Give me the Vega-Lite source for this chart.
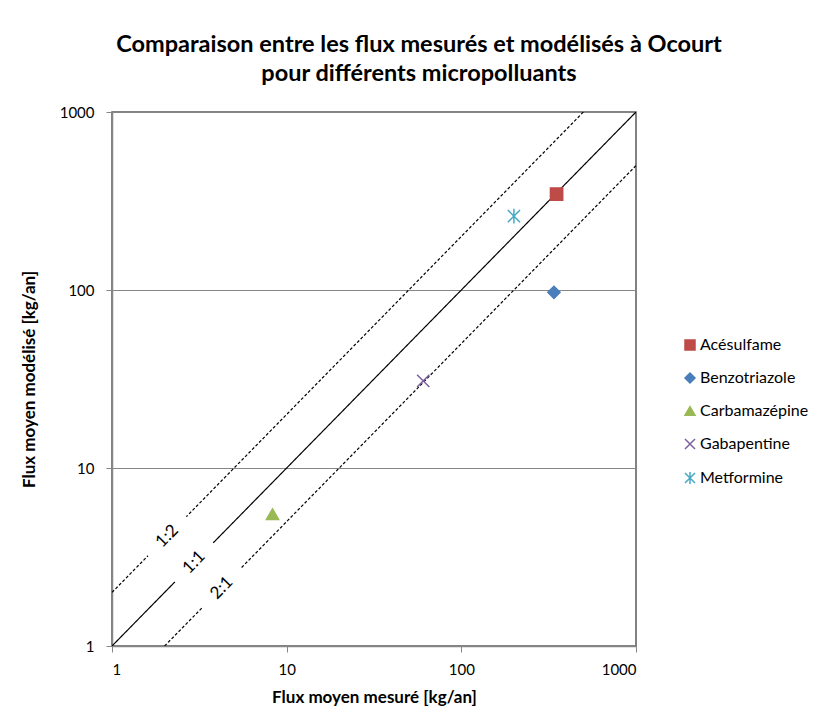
{
  "$schema": "https://vega.github.io/schema/vega-lite/v6.json",
  "width": 524,
  "height": 534,
  "autosize": {"type": "none"},
  "padding": {"left": 112, "top": 112, "right": 182, "bottom": 76},
  "background": "white",
  "config": {
    "font": "Lato",
    "view": {"stroke": "#595959", "strokeWidth": 1.5},
    "axis": {
      "domainColor": "#868686",
      "domainWidth": 1.5,
      "tickColor": "#868686",
      "tickSize": 6,
      "labelFontSize": 15,
      "labelColor": "#000000",
      "titleFontSize": 17,
      "titleFontWeight": "bold",
      "titleColor": "#000000",
      "gridColor": "#868686",
      "gridWidth": 1
    }
  },
  "title": {
    "text": ["Comparaison entre les flux mesurés et modélisés à Ocourt", "pour différents micropolluants"],
    "fontSize": 23.5,
    "fontWeight": "bold",
    "color": "#000000",
    "lineHeight": 29,
    "anchor": "middle",
    "dx": 45,
    "offset": 20
  },
  "datasets": {
    "lines": [
      {"ratio": "1:1", "x": 1, "y": 1},
      {"ratio": "1:1", "x": 1000, "y": 1000},
      {"ratio": "1:2", "x": 1, "y": 2},
      {"ratio": "1:2", "x": 500, "y": 1000},
      {"ratio": "2:1", "x": 2, "y": 1},
      {"ratio": "2:1", "x": 1000, "y": 500}
    ],
    "labels": [
      {"ratio": "1:2", "x": 2.07, "y": 4.14},
      {"ratio": "1:1", "x": 2.95, "y": 2.95},
      {"ratio": "2:1", "x": 4.25, "y": 2.12}
    ],
    "points": [
      {"name": "Acésulfame", "mesure": 351, "modelise": 346},
      {"name": "Benzotriazole", "mesure": 339, "modelise": 97},
      {"name": "Carbamazépine", "mesure": 8.3, "modelise": 5.5},
      {"name": "Gabapentine", "mesure": 60.5, "modelise": 30.9},
      {"name": "Metformine", "mesure": 200, "modelise": 260}
    ]
  },
  "layer": [
    {
      "data": {"name": "lines"},
      "mark": {"type": "line", "color": "#000000", "strokeWidth": 1.2, "clip": true},
      "encoding": {
        "x": {"field": "x", "type": "quantitative", "scale": {"type": "log", "domain": [1, 1000]},
          "axis": {"values": [1, 10, 100, 1000], "format": "d", "grid": false, "title": "Flux moyen mesuré [kg/an]", "labelPadding": 10, "titlePadding": 12}},
        "y": {"field": "y", "type": "quantitative", "scale": {"type": "log", "domain": [1, 1000]},
          "axis": {"values": [1, 10, 100, 1000], "format": "d", "grid": true, "title": "Flux moyen modélisé [kg/an]", "labelPadding": 12, "titlePadding": 21}},
        "detail": {"field": "ratio"},
        "strokeDash": {"field": "ratio", "type": "nominal", "scale": {"domain": ["1:1", "1:2", "2:1"], "range": [[1, 0], [3, 2], [3, 2]]}, "legend": null}
      }
    },
    {
      "data": {"name": "labels"},
      "mark": {"type": "point", "shape": "M-1,-0.34L1,-0.34L1,0.34L-1,0.34Z", "filled": true, "fill": "white", "opacity": 1, "strokeWidth": 0, "size": 3000, "angle": -45.5},
      "encoding": {
        "x": {"field": "x", "type": "quantitative", "scale": {"type": "log", "domain": [1, 1000]}},
        "y": {"field": "y", "type": "quantitative", "scale": {"type": "log", "domain": [1, 1000]}}
      }
    },
    {
      "data": {"name": "labels"},
      "mark": {"type": "text", "angle": -45.5, "fontSize": 17, "color": "#000000", "align": "center", "baseline": "middle"},
      "encoding": {
        "x": {"field": "x", "type": "quantitative", "scale": {"type": "log", "domain": [1, 1000]}},
        "y": {"field": "y", "type": "quantitative", "scale": {"type": "log", "domain": [1, 1000]}},
        "text": {"field": "ratio"}
      }
    },
    {
      "data": {"name": "points"},
      "mark": {"type": "point", "filled": true, "opacity": 1, "size": 150, "strokeWidth": 1.5},
      "encoding": {
        "x": {"field": "mesure", "type": "quantitative", "scale": {"type": "log", "domain": [1, 1000]}},
        "y": {"field": "modelise", "type": "quantitative", "scale": {"type": "log", "domain": [1, 1000]}},
        "color": {"field": "name", "type": "nominal",
          "scale": {"domain": ["Acésulfame", "Benzotriazole", "Carbamazépine", "Gabapentine", "Metformine"],
            "range": ["#BE4B48", "#4A7EBB", "#98B954", "#7D60A0", "#46AAC5"]},
          "legend": {"title": null, "orient": "none", "legendX": 570, "legendY": 225, "labelFontSize": 16, "labelColor": "#000000", "rowPadding": 17, "symbolSize": 100, "symbolStrokeWidth": 1.5, "labelOffset": 2}},
        "stroke": {"field": "name", "type": "nominal",
          "scale": {"domain": ["Acésulfame", "Benzotriazole", "Carbamazépine", "Gabapentine", "Metformine"],
            "range": ["#BE4B48", "#4A7EBB", "#98B954", "#7D60A0", "#46AAC5"]},
          "legend": null},
        "shape": {"field": "name", "type": "nominal",
          "scale": {"domain": ["Acésulfame", "Benzotriazole", "Carbamazépine", "Gabapentine", "Metformine"],
            "range": ["square", "diamond", "triangle-up", "M-1,-1L1,1M-1,1L1,-1", "M-1,-1L1,1M-1,1L1,-1M0,-1.2L0,1.2"]}}
      }
    }
  ]
}
